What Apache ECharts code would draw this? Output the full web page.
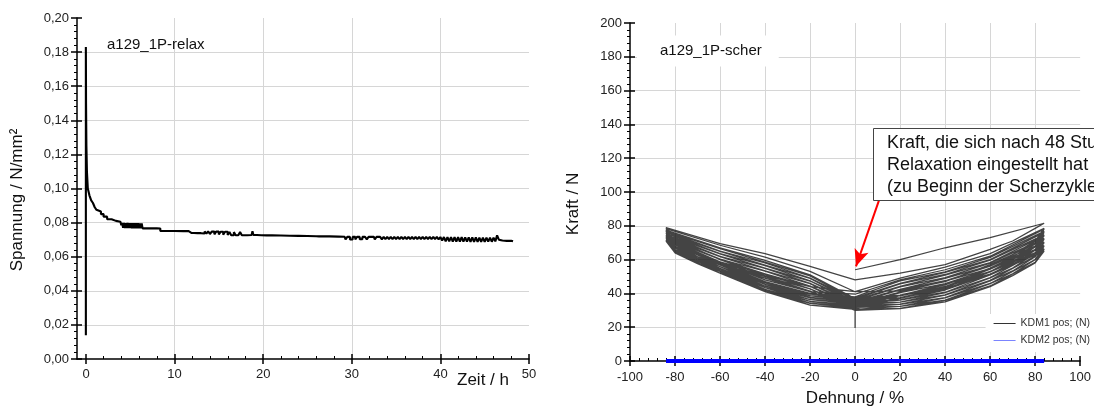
<!DOCTYPE html>
<html>
<head>
<meta charset="utf-8">
<script src="https://cdn.jsdelivr.net/npm/echarts@6.0.0/dist/echarts.min.js"></script>
<style>
html,body{margin:0;padding:0;background:#fff;}
#chart{width:1094px;height:407px;}
</style>
</head>
<body>
<div id="chart"></div>
<script>
// ---------- Left chart: relaxation (Zeit / h vs Spannung / N/mm²) ----------
const relaxTime = [0, 0, 0.02, 0.06, 0.12, 0.22, 0.4, 0.6, 0.8, 1.0, 1.2, 1.4, 1.7, 2.0, 2.4, 2.9, 3.4, 3.9,
  4.0, 4.1, 4.2, 4.3, 4.4, 4.5, 4.6, 4.7, 4.8, 4.9, 5.0, 5.1, 5.2, 5.3, 5.4, 5.5, 5.6, 5.7, 5.8, 5.9, 6.0, 6.1, 6.2, 6.3, 6.4,
  6.6, 6.8, 7.0, 7.2, 7.4, 7.6, 7.8, 8.0, 8.2, 8.4, 9.0, 10.0, 11.0, 11.6,
  11.7, 11.9, 12.0, 12.2, 12.4, 12.6, 12.8, 13.0, 13.2, 13.4, 13.6, 13.8, 14.0, 14.2, 14.5, 14.7, 15.0, 15.2, 15.5, 15.7,
  16.0, 16.2, 16.4, 16.7, 16.9, 17.2, 17.4, 17.6, 17.9, 18.2, 18.7, 18.8, 18.9, 19.3, 19.8, 20.4, 21.0, 22.0, 23.0, 24.0,
  25.0, 26.0, 26.3, 26.5, 27.5, 28.5, 29.2,
  29.3, 29.5, 29.8, 30.1, 30.4, 30.6, 30.9, 31.2, 31.5, 31.7, 31.9, 32.5, 32.6, 32.8, 33.2, 33.4, 33.6, 33.8,
  34.0, 34.2, 34.4, 34.6, 34.8, 35.0, 35.2, 35.4, 35.6, 35.8, 36.0, 36.2, 36.4, 36.6, 36.8, 37.0, 37.2, 37.4, 37.6, 37.8,
  38.0, 38.2, 38.4, 38.6, 38.8, 39.0, 39.2, 39.4, 39.6, 39.8, 40.0, 40.2, 40.4, 40.6, 40.8, 41.0, 41.2, 41.4, 41.6, 41.8,
  42.0, 42.2, 42.4, 42.6, 42.8, 43.0, 43.2, 43.4, 43.6, 43.8, 44.0, 44.2, 44.4, 44.6, 44.8, 45.0, 45.2, 45.4, 45.6, 45.8,
  46.0, 46.2, 46.4, 46.6, 46.8, 47.0, 47.2, 47.5, 47.7, 48.0, 48.2];
const relaxStress = [0.014, 0.183, 0.150, 0.125, 0.110, 0.100, 0.096, 0.093, 0.0915, 0.089, 0.0875, 0.0865, 0.085, 0.0835, 0.082, 0.081, 0.0805, 0.080,
  0.0785, 0.0798, 0.0770, 0.0798, 0.0768, 0.0797, 0.0768, 0.0798, 0.0768, 0.0797, 0.0768, 0.0797, 0.0767, 0.0796, 0.0767, 0.0797, 0.0767, 0.0796, 0.0767, 0.0796, 0.0767, 0.0795, 0.0766, 0.0795, 0.0766,
  0.0766, 0.0759, 0.0767, 0.0759, 0.0766, 0.0759, 0.0766, 0.0759, 0.0765, 0.0751, 0.0751, 0.0750, 0.0750, 0.0750,
  0.0740, 0.0749, 0.0739, 0.0749, 0.0738, 0.0749, 0.0738, 0.0749, 0.0736, 0.0748, 0.0735, 0.0748, 0.0733, 0.0747, 0.0731, 0.0747, 0.0730, 0.0746, 0.0729, 0.0746,
  0.0727, 0.0745, 0.0726, 0.0744, 0.0726, 0.0727, 0.0744, 0.0726, 0.0726, 0.0727, 0.0727, 0.0749, 0.0727, 0.0726, 0.0725, 0.0725, 0.0724, 0.0723, 0.0722, 0.0721,
  0.0720, 0.0719, 0.0725, 0.0719, 0.0718, 0.0717, 0.0717,
  0.0701, 0.0716, 0.0701, 0.0716, 0.0701, 0.0716, 0.0702, 0.0716, 0.0716, 0.0702, 0.0716, 0.0716, 0.0702, 0.0716, 0.0716, 0.0702, 0.0716, 0.0703,
  0.0716, 0.0703, 0.0716, 0.0703, 0.0716, 0.0703, 0.0716, 0.0703, 0.0716, 0.0703, 0.0716, 0.0703, 0.0716, 0.0703, 0.0716, 0.0703, 0.0716, 0.0703, 0.0716, 0.0703,
  0.0716, 0.0703, 0.0716, 0.0703, 0.0716, 0.0703, 0.0716, 0.0703, 0.0716, 0.0702, 0.0715, 0.0695, 0.0715, 0.0690, 0.0715, 0.0690, 0.0715, 0.0689, 0.0714, 0.0689,
  0.0714, 0.0688, 0.0714, 0.0688, 0.0713, 0.0688, 0.0713, 0.0687, 0.0713, 0.0687, 0.0713, 0.0687, 0.0712, 0.0687, 0.0712, 0.0687, 0.0712, 0.0688, 0.0712, 0.0688,
  0.0711, 0.0690, 0.0725, 0.0700, 0.0695, 0.0690, 0.0693, 0.0688, 0.0693, 0.0690, 0.0690];

// ---------- Right chart: shear cycles (Dehnung / % vs Kraft / N) ----------
// strain positions visited by every cycle (loading out, unloading back, both sides)
const strainPath = [0, 20, 40, 60, 84, 80, 70, 60, 40, 20, 0, -20, -40, -60, -84, -80, -70, -60, -40, -20, 0];
// force read for each cycle at the strainPath positions
const kdm1Cycles = [
  [54, 60, 67, 73, 81.5, 78.5, 71, 66, 57, 52, 48, 56, 63.5, 69.5, 79, 73, 66, 60, 50.5, 44, 41],
  [41, 49, 55.5, 63.5, 78.5, 71, 63, 57, 47, 41.5, 41, 53, 61.5, 68.5, 78.3, 71, 64, 58.5, 48, 41, 39.5],
  [39.5, 48, 54, 62, 78, 70, 61.5, 55, 45, 39, 37, 51, 59.5, 67, 77.5, 70, 63.5, 58, 47, 40, 38],
  [38, 47.4, 52.8, 61.3, 76.8, 69.2, 60.3, 54.3, 44.0, 38.6, 36.2, 50.4, 58.5, 66.5, 76.8, 69.7, 62.8, 57.6, 46.3, 39.6, 37.4],
  [37.4, 46.0, 52.5, 60.0, 76.1, 67.8, 59.9, 53.0, 43.6, 37.5, 36.1, 49.1, 58.0, 65.1, 76.6, 68.8, 62.8, 56.8, 46.2, 38.7, 36.8],
  [36.8, 45.6, 51.2, 59.7, 74.6, 67.4, 58.6, 52.7, 42.3, 37.3, 35.0, 48.9, 56.7, 64.9, 75.7, 68.8, 61.8, 56.9, 45.4, 38.5, 36.2],
  [36.2, 44.2, 50.8, 58.2, 74.1, 65.9, 58.3, 51.2, 42.0, 36.2, 35.0, 47.5, 56.4, 63.5, 75.6, 67.9, 61.8, 55.9, 45.3, 37.6, 35.6],
  [35.6, 43.9, 49.3, 57.9, 72.5, 65.5, 56.8, 50.9, 40.7, 36.0, 34.0, 47.3, 55.0, 63.3, 74.7, 67.8, 60.9, 55.8, 44.4, 37.4, 35.0],
  [35.0, 42.4, 48.9, 56.4, 72.1, 63.9, 56.5, 49.4, 40.4, 34.9, 33.8, 45.9, 54.8, 61.9, 74.6, 66.9, 60.9, 54.9, 44.3, 36.4, 34.4],
  [34.4, 42.1, 47.5, 56.1, 70.4, 63.6, 55.0, 49.1, 39.1, 34.8, 32.9, 45.7, 53.3, 61.7, 73.7, 66.9, 60.0, 54.8, 43.4, 36.3, 33.8],
  [33.8, 40.7, 47.3, 54.7, 70.0, 62.0, 54.8, 47.7, 38.9, 33.6, 32.8, 44.3, 53.1, 60.3, 73.5, 65.9, 60.0, 53.9, 43.4, 35.3, 33.2],
  [33.2, 40.4, 45.8, 54.4, 68.3, 61.7, 53.3, 47.4, 37.5, 33.5, 31.8, 44.1, 51.6, 60.1, 72.6, 65.9, 59.0, 53.9, 42.4, 35.2, 32.6],
  [32.6, 38.9, 45.5, 52.9, 67.9, 60.1, 53.0, 45.9, 37.3, 32.3, 31.7, 42.7, 51.4, 58.7, 72.5, 64.9, 59.1, 53.0, 42.4, 34.2, 32.0],
  [32.0, 38.6, 44.1, 52.7, 66.4, 59.9, 51.6, 45.7, 36.0, 32.3, 30.6, 42.6, 50.0, 58.6, 71.6, 65.0, 58.1, 53.0, 41.5, 34.1, 31.5],
  [31.5, 37.4, 44.0, 51.4, 66.1, 58.4, 51.5, 44.4, 35.9, 31.2, 30.6, 41.3, 49.9, 57.3, 71.6, 64.1, 58.3, 52.1, 41.6, 33.1, 31.0],
  [31.0, 37.0, 43.0, 51.0, 65.0, 58.0, 50.5, 44.0, 35.0, 31.0, 30.0, 41.0, 49.0, 57.0, 71.0, 64.0, 57.6, 52.0, 41.0, 33.0, 30.5]
];
const kdm1EndStrain = [0];
const kdm1EndForce = [19.5];
const kdm2Strain = [-84, 84];
const kdm2Force = [0, 0];

// annotation arrow (data coordinates of start and tip)
const arrowFrom = [10.7, 95.3];
const arrowTo = [0.4, 56];

// ---------- build series data ----------
const relaxData = relaxTime.map((t, i) => [t, relaxStress[i]]);
const kdm1Data = [];
kdm1Cycles.forEach(c => c.forEach((f, i) => kdm1Data.push([strainPath[i], f])));
kdm1EndStrain.forEach((s, i) => kdm1Data.push([s, kdm1EndForce[i]]));
const kdm2Data = kdm2Strain.map((s, i) => [s, kdm2Force[i]]);

const FONT = 'Liberation Sans, Arial, Helvetica, sans-serif';
const gridLine = { show: true, showMinLine: false, showMaxLine: false, lineStyle: { color: '#d6d6d6', width: 1 } };
const axLine = { show: true, onZero: false, lineStyle: { color: '#000', width: 1.5 } };
const noLine = { show: false, onZero: false };
const lbl = { color: '#222', fontSize: 13, fontFamily: FONT };

const chart = echarts.init(document.getElementById('chart'), null, { renderer: 'canvas' });
chart.setOption({
  animation: false,
  backgroundColor: '#fff',
  textStyle: { fontFamily: FONT },
  grid: [
    { left: 77, top: 18, width: 452, height: 341 },
    { left: 86, top: 18, width: 443, height: 341 },
    { left: 630, top: 23, width: 451, height: 338 }
  ],
  xAxis: [
    { gridIndex: 0, type: 'value', min: -1, max: 50, axisLine: axLine, axisTick: { show: false }, axisLabel: { show: false }, splitLine: { show: false } },
    { gridIndex: 1, type: 'value', min: 0, max: 50, interval: 10, position: 'bottom',
      axisLine: noLine, axisTick: { show: true, length: 5, lineStyle: { color: '#000', width: 1.5 } },
      axisLabel: Object.assign({ margin: 9 }, lbl), splitLine: gridLine },
    { gridIndex: 1, type: 'value', min: 0, max: 50, interval: 10, position: 'bottom',
      axisLine: noLine, axisTick: { show: true, inside: true, length: 5, lineStyle: { color: '#000', width: 1.5 } },
      minorTick: { show: true, splitNumber: 5, length: 3, lineStyle: { color: '#000', width: 1 } },
      axisLabel: { show: false }, splitLine: { show: false } },
    { gridIndex: 2, type: 'value', min: -100, max: 100, interval: 20, position: 'bottom',
      axisLine: axLine, axisTick: { show: true, length: 5, lineStyle: { color: '#000', width: 1.5 } },
      axisLabel: Object.assign({ margin: 10 }, lbl), splitLine: gridLine },
    { gridIndex: 2, type: 'value', min: -100, max: 100, interval: 20, position: 'bottom',
      axisLine: noLine, axisTick: { show: true, inside: true, length: 5, lineStyle: { color: '#000', width: 1.5 } },
      minorTick: { show: true, splitNumber: 5, length: 3, lineStyle: { color: '#000', width: 1 } },
      axisLabel: { show: false }, splitLine: { show: false } }
  ],
  yAxis: [
    { gridIndex: 0, type: 'value', min: 0, max: 0.2, interval: 0.02, position: 'left',
      axisLine: axLine, axisTick: { show: true, length: 6, lineStyle: { color: '#000', width: 1.5 } },
      minorTick: { show: true, splitNumber: 5, length: 3, lineStyle: { color: '#000', width: 1 } },
      axisLabel: Object.assign({ margin: 8, formatter: v => v.toFixed(2).replace('.', ',') }, lbl),
      splitLine: gridLine },
    { gridIndex: 0, type: 'value', min: 0, max: 0.2, interval: 0.02, position: 'left',
      axisLine: noLine, axisTick: { show: true, inside: true, length: 5, lineStyle: { color: '#000', width: 1.5 } },
      axisLabel: { show: false }, splitLine: { show: false } },
    { gridIndex: 1, type: 'value', min: 0, max: 0.2, show: false, axisLine: noLine },
    { gridIndex: 2, type: 'value', min: 0, max: 200, interval: 20, position: 'left',
      axisLine: axLine, axisTick: { show: true, length: 6, lineStyle: { color: '#000', width: 1.5 } },
      minorTick: { show: true, splitNumber: 5, length: 3, lineStyle: { color: '#000', width: 1 } },
      axisLabel: Object.assign({ margin: 8 }, lbl), splitLine: gridLine },
    { gridIndex: 2, type: 'value', min: 0, max: 200, interval: 20, position: 'left',
      axisLine: noLine, axisTick: { show: true, inside: true, length: 5, lineStyle: { color: '#000', width: 1.5 } },
      axisLabel: { show: false }, splitLine: { show: false } }
  ],
  legend: {
    orient: 'vertical', right: 0, top: 314, itemWidth: 22, itemHeight: 1, itemGap: 6,
    icon: 'rect', backgroundColor: '#fff', padding: [4, 4, 6, 8],
    textStyle: { fontSize: 10.5, color: '#333', fontFamily: FONT },
    data: [
      { name: 'KDM1 pos; (N)', itemStyle: { color: '#333' } },
      { name: 'KDM2 pos; (N)', itemStyle: { color: '#7b84ff' } }
    ]
  },
  series: [
    { name: 'a129_1P-relax', type: 'line', step: 'end', xAxisIndex: 0, yAxisIndex: 0, data: relaxData,
      showSymbol: false, lineStyle: { color: '#000', width: 2.1 }, z: 5 },
    { name: 'KDM1 pos; (N)', type: 'line', xAxisIndex: 3, yAxisIndex: 3, data: kdm1Data,
      showSymbol: false, lineStyle: { color: 'rgba(15,15,15,0.78)', width: 1.25 }, itemStyle: { color: '#333' }, z: 3,
      markLine: {
        silent: true, animation: false, symbol: ['none', 'arrow'], symbolSize: [11, 17],
        lineStyle: { color: '#ff0000', width: 2, type: 'solid' }, label: { show: false },
        data: [[{ coord: arrowFrom }, { coord: arrowTo }]]
      } },
    { name: 'KDM2 pos; (N)', type: 'line', xAxisIndex: 3, yAxisIndex: 3, data: kdm2Data,
      showSymbol: false, lineStyle: { color: '#0000ff', width: 4 }, itemStyle: { color: '#7b84ff' }, z: 6 }
  ],
  graphic: [
    { type: 'text', x: 107, y: 45, z: 50, style: { text: 'a129_1P-relax', font: '15px ' + FONT, fill: '#111', textVerticalAlign: 'middle' } },
    { type: 'text', x: 637, y: 51, z: 50, style: { text: 'a129_1P-scher', font: '15px ' + FONT, fill: '#111', textVerticalAlign: 'middle',
        backgroundColor: '#fff', padding: [8, 17, 8, 23] } },
    { type: 'rect', z: 60, shape: { x: 873.5, y: 128.5, width: 260, height: 72 }, style: { fill: '#fff', stroke: '#444', lineWidth: 1 } },
    { type: 'text', z: 61, x: 887, y: 132, style: { text: 'Kraft, die sich nach 48 Stunden\nRelaxation eingestellt hat\n(zu Beginn der Scherzyklen)',
        font: '18px ' + FONT, fill: '#111', lineHeight: 22 } },
    { type: 'text', x: 17, y: 200, rotation: Math.PI / 2, style: { text: 'Spannung / N/mm²', font: '17px ' + FONT, fill: '#111', textAlign: 'center', textVerticalAlign: 'middle' } },
    { type: 'text', x: 483, y: 380, style: { text: 'Zeit / h', font: '17px ' + FONT, fill: '#111', textAlign: 'center', textVerticalAlign: 'middle' } },
    { type: 'text', x: 573, y: 204, rotation: Math.PI / 2, style: { text: 'Kraft / N', font: '17px ' + FONT, fill: '#111', textAlign: 'center', textVerticalAlign: 'middle' } },
    { type: 'text', x: 855, y: 398, style: { text: 'Dehnung / %', font: '17px ' + FONT, fill: '#111', textAlign: 'center', textVerticalAlign: 'middle' } }
  ]
});
</script>
</body>
</html>
